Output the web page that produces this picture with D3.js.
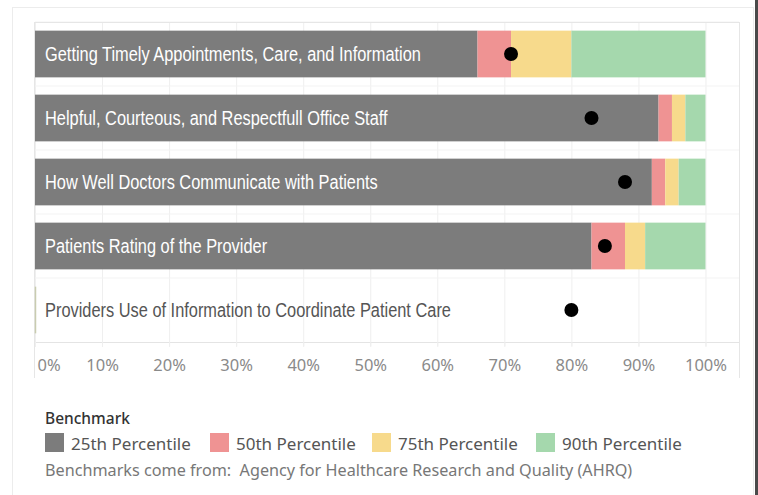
<!DOCTYPE html>
<html><head><meta charset="utf-8">
<script src="https://cdn.jsdelivr.net/npm/d3@7"></script>
<style>
html,body{margin:0;padding:0;background:#fff;}
svg{display:block;}
</style></head>
<body>
<svg id="chart" width="758" height="495"></svg>
<script>
// ---- data ----
const categories = [
  "Getting Timely Appointments, Care, and Information",
  "Helpful, Courteous, and Respectfull Office Staff",
  "How Well Doctors Communicate with Patients",
  "Patients Rating of the Provider",
  "Providers Use of Information to Coordinate Patient Care"
];
const p25 = [66, 93, 92, 83, 0];
const p50 = [71, 95, 94, 88, 0];
const p75 = [80, 97, 96, 91, 0];
const p90 = [100, 100, 100, 100, 0];
const scores = [71, 83, 88, 85, 80];
const tickValues = [0, 10, 20, 30, 40, 50, 60, 70, 80, 90, 100];
const seriesNames = ["25th Percentile", "50th Percentile", "75th Percentile", "90th Percentile"];
const seriesColors = ["#7c7c7c", "#ef9393", "#f7da8c", "#a5d8ad"];

const svg = d3.select("#chart");

// outer card
svg.append("rect").attr("x", 12.5).attr("y", 7.5).attr("width", 741).attr("height", 500)
  .attr("fill", "#fff").attr("stroke", "#ececec");
svg.append("rect").attr("x", 755).attr("y", 0).attr("width", 3).attr("height", 495).attr("fill", "#4a4a4a");

const x = d3.scaleLinear().domain([0, 105]).range([35, 739]);
const y = d3.scaleBand().domain(categories).range([22, 342]).paddingInner(0.27).paddingOuter(0.135);

// grid
const gGrid = svg.append("g");
gGrid.selectAll("line.grid").data(tickValues).join("line")
  .attr("x1", d => x(d) + 0.5).attr("x2", d => x(d) + 0.5)
  .attr("y1", 22).attr("y2", 346)
  .attr("stroke", "#efefef");
const rowBounds = categories.map(c => y(c) - y.step() * y.paddingInner() / 2);
gGrid.selectAll("line.row").data(rowBounds).join("line")
  .attr("x1", 35).attr("x2", 739)
  .attr("y1", d => d).attr("y2", d => d).attr("stroke", "#f3f3f3");
svg.append("line").attr("x1", 35).attr("x2", 739).attr("y1", 22.5).attr("y2", 22.5).attr("stroke", "#e6e6e6");
svg.append("line").attr("x1", 35).attr("x2", 739).attr("y1", 342.5).attr("y2", 342.5).attr("stroke", "#e4e4e4");
svg.append("line").attr("x1", 34.5).attr("x2", 34.5).attr("y1", 22).attr("y2", 378).attr("stroke", "#e6e6e6");
svg.append("line").attr("x1", 739.5).attr("x2", 739.5).attr("y1", 22).attr("y2", 378).attr("stroke", "#e6e6e6");

// bars
const ends = [p25, p50, p75, p90];
const segs = [];
categories.forEach((c, i) => {
  let prev = 0;
  ends.forEach((arr, k) => {
    segs.push({cat: c, k: k, x0: prev, x1: arr[i]});
    prev = arr[i];
  });
});
svg.append("g").selectAll("rect").data(segs).join("rect")
  .attr("x", d => x(d.x0))
  .attr("y", d => y(d.cat))
  .attr("width", d => Math.max(0, x(d.x1) - x(d.x0)))
  .attr("height", y.bandwidth())
  .attr("fill", d => seriesColors[d.k]);

svg.append("g").selectAll("line").data(categories.filter((c, i) => p90[i] === 0)).join("line")
  .attr("x1", x(0) + 0.5).attr("x2", x(0) + 0.5)
  .attr("y1", d => y(d)).attr("y2", d => y(d) + y.bandwidth())
  .attr("stroke", "#c9ccb0").attr("stroke-width", 1.5);

// labels (condensed via horizontal scale)
const labels = svg.append("g").selectAll("text").data(categories).join("text")
  .attr("fill", (d, i) => p25[i] > 0 ? "#ffffff" : "#555555")
  .attr("font-family", "'Liberation Sans', Arial, sans-serif")
  .attr("font-size", 21)
  .attr("dy", "0.35em")
  .text(d => d);
const w0 = labels.nodes()[0].getComputedTextLength();
const sx = 376 / w0;
labels.attr("transform", d => `translate(${x(0) + 10},${y(d) + y.bandwidth() / 2}) scale(${sx},1)`);

// dots
svg.append("g").selectAll("circle").data(categories).join("circle")
  .attr("cx", (d, i) => x(scores[i]))
  .attr("cy", d => y(d) + y.bandwidth() / 2)
  .attr("r", 7)
  .attr("fill", "#000");

// axis
const axis = d3.axisBottom(x).tickValues(tickValues).tickFormat(d => d + "%").tickSize(5).tickSizeOuter(0);
const gAxis = svg.append("g").attr("transform", "translate(0,342)").call(axis);
gAxis.select(".domain").remove();
gAxis.selectAll(".tick line").attr("stroke", "#efefef");
gAxis.selectAll(".tick text")
  .attr("y", 17)
  .attr("fill", "#8a8a8a")
  .attr("font-family", "'Noto Sans', sans-serif")
  .attr("font-size", 16.5)
  .attr("text-anchor", d => d === 0 ? "start" : "middle")
  .attr("dx", d => d === 0 ? 2 : 0);

// legend
const lg = svg.append("g");
lg.append("text").attr("x", 45).attr("y", 424).text("Benchmark")
  .attr("font-family", "'Noto Sans', sans-serif").attr("font-size", 15.5).attr("font-weight", 500).attr("fill", "#333");
const legX = [45, 210, 372, 536];
const items = lg.selectAll("g.item").data(seriesNames).join("g")
  .attr("transform", (d, i) => `translate(${legX[i]},433)`);
items.append("rect").attr("width", 19).attr("height", 19).attr("fill", (d, i) => seriesColors[i]);
items.append("text").attr("x", 26).attr("y", 11).attr("dy", "0.35em").text(d => d)
  .attr("font-family", "'Noto Sans', sans-serif").attr("font-size", 17).attr("fill", "#555");
lg.append("text").attr("x", 45).attr("y", 476)
  .text("Benchmarks come from:\u00a0 Agency for Healthcare Research and Quality (AHRQ)")
  .attr("font-family", "'Noto Sans', sans-serif").attr("font-size", 16.2).attr("fill", "#777");
</script>
</body></html>
